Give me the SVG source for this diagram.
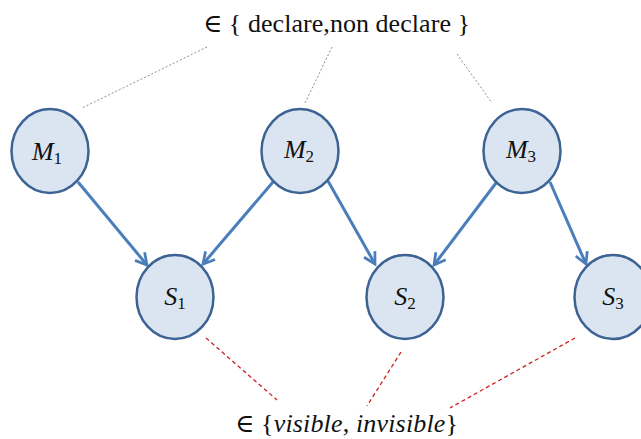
<svg xmlns="http://www.w3.org/2000/svg" width="641" height="439" viewBox="0 0 641 439">
<defs>
<style>
.node{fill:#dbe5f1;stroke:#3c6394;stroke-width:2.5}
.lbl{font-size:26px;fill:#111;text-anchor:middle}
.it{font-style:italic}
.sub{font-size:17px}
.edge{stroke:#4a7ebb;stroke-width:3;fill:none;marker-end:url(#ah)}
.gray{stroke:#8f8f80;stroke-width:1;stroke-dasharray:2,2;fill:none}
.red{stroke:#cc1f1f;stroke-width:1.3;stroke-dasharray:4,3;fill:none}
.txt{font-size:26px;fill:#111}
</style>
<marker id="ah" viewBox="0 0 12 12" refX="10" refY="6" markerWidth="5" markerHeight="5" orient="auto" markerUnits="strokeWidth">
<path d="M1,1 L10,6 L1,11" fill="none" stroke="#4a7ebb" stroke-width="2.2"/>
</marker>
</defs>
<rect width="641" height="439" fill="#fff"/>
<g id="connectors">
<line class="edge" x1="78" y1="182" x2="147" y2="265"/>
<line class="edge" x1="273" y1="182" x2="203" y2="264"/>
<line class="edge" x1="328" y1="181" x2="375" y2="264"/>
<line class="edge" x1="496" y1="183" x2="434" y2="265"/>
<line class="edge" x1="550" y1="182" x2="586" y2="264"/>
<line class="gray" x1="207" y1="47" x2="82" y2="108"/>
<line class="gray" x1="332" y1="47" x2="305" y2="103"/>
<line class="gray" x1="457" y1="54" x2="492" y2="103"/>
<line class="red" x1="206" y1="338" x2="277" y2="400"/>
<line class="red" x1="401" y1="352" x2="367" y2="406"/>
<line class="red" x1="575" y1="338" x2="450" y2="408"/>
</g>
<g font-family="'Liberation Serif', 'DejaVu Serif', serif">
<g id="M1"><ellipse class="node" cx="50" cy="151" rx="38.5" ry="42"/><text class="lbl" x="47" y="160"><tspan class="it">M</tspan><tspan class="sub" dy="4">1</tspan></text></g>
<g id="M2"><ellipse class="node" cx="300" cy="151" rx="38.5" ry="42"/><text class="lbl" x="299" y="158"><tspan class="it">M</tspan><tspan class="sub" dy="4">2</tspan></text></g>
<g id="M3"><ellipse class="node" cx="522" cy="151" rx="38.5" ry="42"/><text class="lbl" x="521" y="158"><tspan class="it">M</tspan><tspan class="sub" dy="4">3</tspan></text></g>
<g id="S1"><ellipse class="node" cx="175" cy="297" rx="38.5" ry="42"/><text class="lbl" x="175" y="305"><tspan class="it">S</tspan><tspan class="sub" dy="4">1</tspan></text></g>
<g id="S2"><ellipse class="node" cx="405" cy="297" rx="38.5" ry="42"/><text class="lbl" x="405" y="305"><tspan class="it">S</tspan><tspan class="sub" dy="4">2</tspan></text></g>
<g id="S3"><ellipse class="node" cx="613" cy="297" rx="38.5" ry="42"/><text class="lbl" x="613" y="305"><tspan class="it">S</tspan><tspan class="sub" dy="4">3</tspan></text></g>
<g id="top-label"><text class="txt" x="203" y="32" textLength="267" lengthAdjust="spacing">∈ { declare,non declare }</text></g>
<g id="bottom-label"><text class="txt" x="235" y="432" textLength="223" lengthAdjust="spacing">∈ {<tspan class="it">visible</tspan>, <tspan class="it">invisible</tspan>}</text></g>
</g>
</svg>
